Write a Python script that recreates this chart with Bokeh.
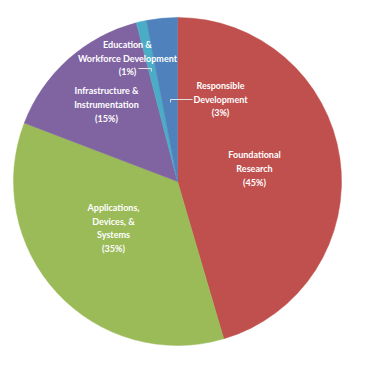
import math
from bokeh.plotting import figure
from bokeh.models import Range1d, ColumnDataSource
from bokeh.core.properties import value
from bokeh.embed import file_html
from bokeh.resources import INLINE

# ---- data ----
categories = ["Foundational Research", "Applications, Devices, & Systems",
              "Infrastructure & Instrumentation", "Education & Workforce Development",
              "Responsible Development"]
shares = [45, 35, 15, 1, 3]
labels = ["Foundational\nResearch\n(45%)",
          "Applications,\nDevices, &\nSystems\n(35%)",
          "Infrastructure &\nInstrumentation\n(15%)",
          "Education &\nWorkforce Development\n(1%)",
          "Responsible\nDevelopment\n(3%)"]
colors = ["#C0504D", "#9BBB59", "#8064A2", "#4BACC6", "#4F81BD"]

# ---- layout (pixels) ----
W, H = 350, 349
cx, cy, R = 177, 168, 164
label_offsets = [(77, 13), (-64, -46.5), (-71, 77), (-50, 123.5), (43, 82.5)]
leaders = [
    [(-39, 113), (-26, 113), (-26, 110)],   # Education
    [(15, 82), (-7, 82), (-7, 79)],         # Responsible
]

total = float(sum(shares))
starts, ends, cum = [], [], 0.0
for s in shares:
    a0 = math.pi / 2 - 2 * math.pi * cum / total
    cum += s
    a1 = math.pi / 2 - 2 * math.pi * cum / total
    starts.append(a1)
    ends.append(a0)

src = ColumnDataSource(dict(cat=categories, start=starts, end=ends, color=colors))

p = figure(width=W, height=H, output_backend="svg", toolbar_location=None,
           x_range=Range1d(0, W), y_range=Range1d(0, H), min_border=0)
p.axis.visible = False
p.grid.visible = False
p.outline_line_color = None
p.background_fill_color = "white"

p.wedge(x=cx, y=cy, radius=R, start_angle="start", end_angle="end",
        fill_color="color", line_color="color", line_width=0.5, source=src)

for pts in leaders:
    p.line([cx + a for a, b in pts], [cy + b for a, b in pts],
           line_color="#E0E0E0", line_width=1)

p.text(x=[cx + dx for dx, dy in label_offsets], y=[cy + dy for dx, dy in label_offsets],
       text=labels, text_color="white", text_font=value("Lato"),
       text_font_style="bold", text_font_size="9px", text_align="center",
       text_baseline="middle", text_line_height=1.25)

open("out.html", "w").write(file_html(p, INLINE))
